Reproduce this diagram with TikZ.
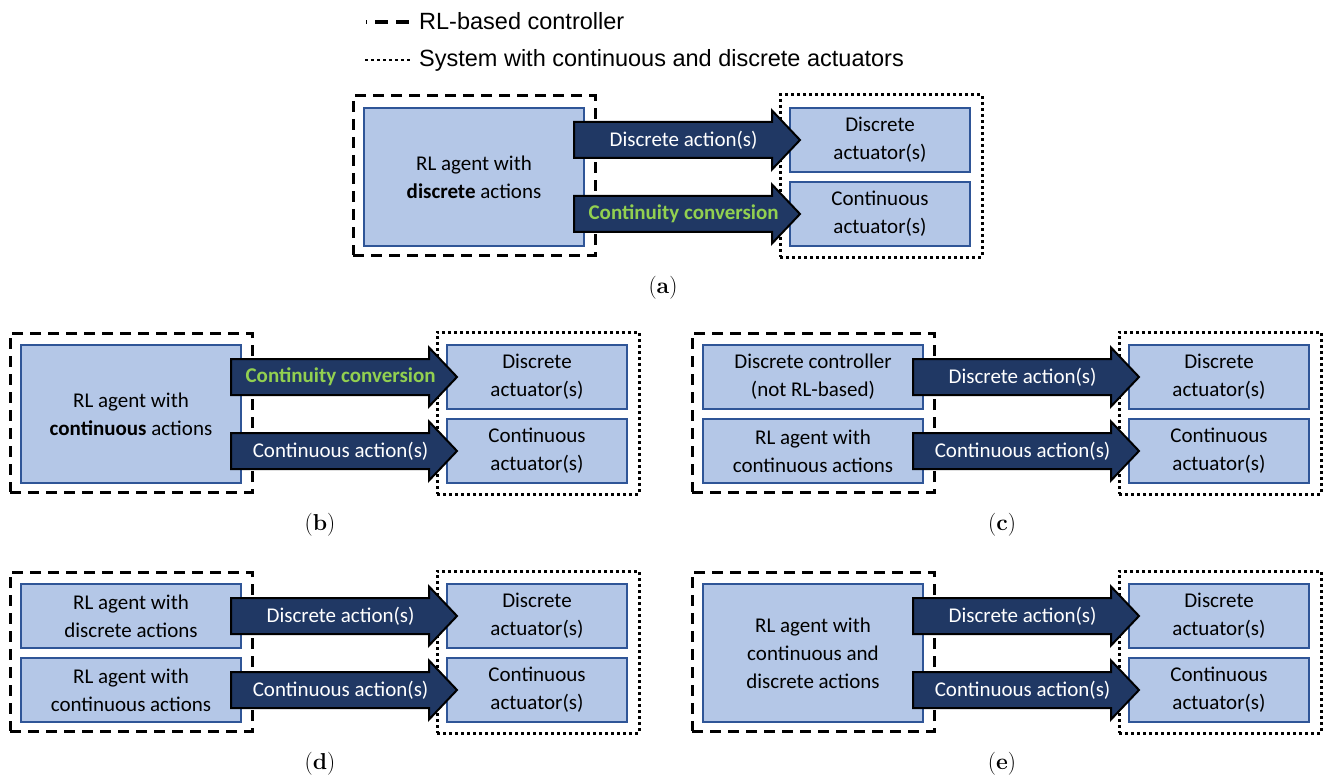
\documentclass[tikz,border=0pt]{standalone}
\usepackage{fontspec}
\newfontfamily\calibri{Carlito}
\newfontfamily\arialfont{Liberation Sans}
\usetikzlibrary{calc}
\definecolor{boxfill}{HTML}{B4C7E7}
\definecolor{boxline}{HTML}{2F5597}
\definecolor{arrowfill}{HTML}{203864}
\definecolor{convgreen}{HTML}{92D050}

% block arrow from a tail point to the west side of a target node
% #1 tail anchor, #2 target node, #3 name, #4 label style, #5 label
\newcommand{\blockarrow}[5]{%
  \coordinate (#3-tail) at ([xshift=-11pt]#1);
  \coordinate (#3-tip) at ([xshift=11pt]#2.west);
  \draw[barrow] ([yshift=18pt]#3-tail) -- ([xshift=-28pt,yshift=18pt]#3-tip)
    -- ([xshift=-28pt,yshift=29.5pt]#3-tip) -- (#3-tip)
    -- ([xshift=-28pt,yshift=-29.5pt]#3-tip) -- ([xshift=-28pt,yshift=-18pt]#3-tip)
    -- ([yshift=-18pt]#3-tail) -- cycle;
  \node[#4] (#3) at ($(#3-tail)!0.485!(#3-tip)$) {#5};
}

\begin{document}
\begin{tikzpicture}[x=1pt,y=-1pt,
  boxfont/.style={font=\calibri\fontsize{21}{28}\selectfont},
  unit/.style={boxfont, draw=boxline, fill=boxfill, line width=2pt, align=center, inner sep=0pt},
  bigunit/.style={unit, minimum width=220pt, minimum height=138pt},
  smallunit/.style={unit, minimum width=220pt, minimum height=64pt},
  actbox/.style={unit, minimum width=180pt, minimum height=64pt},
  ctrlframe/.style={draw=black, line width=3pt, dash pattern=on 11pt off 7pt, minimum width=242pt, minimum height=159pt, inner sep=0pt},
  plantframe/.style={draw=black, line width=3pt, dash pattern=on 3pt off 3pt, minimum width=202pt, minimum height=162pt, inner sep=0pt},
  barrow/.style={draw=black, line width=2pt, fill=arrowfill, line join=miter},
  alabel/.style={boxfont, text=white, inner sep=0pt},
  conv/.style={font=\calibri\bfseries\fontsize{21}{28}\selectfont, text=convgreen, inner sep=0pt},
  legtext/.style={font=\arialfont\fontsize{23.5}{28}\selectfont, inner sep=0pt, anchor=base west},
  legdash/.style={line width=3.5pt, dash pattern=on 13pt off 8pt, dash phase=12pt},
  legdot/.style={line width=2.5pt, dash pattern=on 3pt off 3pt},
  caption/.style={font=\rmfamily\fontsize{23}{27}\selectfont, inner sep=0pt, anchor=base}
]
\useasboundingbox (0,0) rectangle (1325,778);

% legend
\coordinate (l1a) at (366,22);
\coordinate (l1b) at (409,22);
\draw[legdash] (l1a) -- (l1b);
\node[legtext] (leg1) at (419,30) {RL-based controller};
\coordinate (l2a) at (365,60);
\coordinate (l2b) at (410,60);
\draw[legdot] (l2a) -- (l2b);
\node[legtext] (leg2) at (419,67) {System with continuous and discrete actuators};

% (a)
\begin{scope}[shift={(353,96)}]
  \node[ctrlframe] (a-ctrl) at (121,79.5) {};
  \node[plantframe] (a-plant) at (528,80) {};
  \node[bigunit] (a-agent) at (121,81) {RL agent with\\\textbf{discrete} actions};
  \node[actbox] (a-dact) at (527,44) {Discrete\\actuator(s)};
  \node[actbox] (a-cact) at (527,118) {Continuous\\actuator(s)};
  \coordinate (a-o1) at (a-agent.east |- a-dact.west);
  \coordinate (a-o2) at (a-agent.east |- a-cact.west);
  \blockarrow{a-o1}{a-dact}{a-arr1}{alabel}{Discrete action(s)}
  \blockarrow{a-o2}{a-cact}{a-arr2}{conv}{Continuity conversion}
  \node[caption] (a-cap) at (310,197) {(\textbf{a})};
\end{scope}

% (b)
\begin{scope}[shift={(10,333)}]
  \node[ctrlframe] (b-ctrl) at (121,79.5) {};
  \node[plantframe] (b-plant) at (528,80) {};
  \node[bigunit] (b-agent) at (121,81) {RL agent with\\\textbf{continuous} actions};
  \node[actbox] (b-dact) at (527,44) {Discrete\\actuator(s)};
  \node[actbox] (b-cact) at (527,118) {Continuous\\actuator(s)};
  \coordinate (b-o1) at (b-agent.east |- b-dact.west);
  \coordinate (b-o2) at (b-agent.east |- b-cact.west);
  \blockarrow{b-o1}{b-dact}{b-arr1}{conv}{Continuity conversion}
  \blockarrow{b-o2}{b-cact}{b-arr2}{alabel}{Continuous action(s)}
  \node[caption] (b-cap) at (310,197) {(\textbf{b})};
\end{scope}

% (c)
\begin{scope}[shift={(692,333)}]
  \node[ctrlframe] (c-ctrl) at (121,79.5) {};
  \node[plantframe] (c-plant) at (528,80) {};
  \node[smallunit] (c-top) at (121,44) {Discrete controller\\(not RL-based)};
  \node[smallunit] (c-bot) at (121,118) {RL agent with\\continuous actions};
  \node[actbox] (c-dact) at (527,44) {Discrete\\actuator(s)};
  \node[actbox] (c-cact) at (527,118) {Continuous\\actuator(s)};
  \blockarrow{c-top.east}{c-dact}{c-arr1}{alabel}{Discrete action(s)}
  \blockarrow{c-bot.east}{c-cact}{c-arr2}{alabel}{Continuous action(s)}
  \node[caption] (c-cap) at (310,197) {(\textbf{c})};
\end{scope}

% (d)
\begin{scope}[shift={(10,572)}]
  \node[ctrlframe] (d-ctrl) at (121,79.5) {};
  \node[plantframe] (d-plant) at (528,80) {};
  \node[smallunit] (d-top) at (121,44) {RL agent with\\discrete actions};
  \node[smallunit] (d-bot) at (121,118) {RL agent with\\continuous actions};
  \node[actbox] (d-dact) at (527,44) {Discrete\\actuator(s)};
  \node[actbox] (d-cact) at (527,118) {Continuous\\actuator(s)};
  \blockarrow{d-top.east}{d-dact}{d-arr1}{alabel}{Discrete action(s)}
  \blockarrow{d-bot.east}{d-cact}{d-arr2}{alabel}{Continuous action(s)}
  \node[caption] (d-cap) at (310,197) {(\textbf{d})};
\end{scope}

% (e)
\begin{scope}[shift={(692,572)}]
  \node[ctrlframe] (e-ctrl) at (121,79.5) {};
  \node[plantframe] (e-plant) at (528,80) {};
  \node[bigunit] (e-agent) at (121,81) {RL agent with\\continuous and\\discrete actions};
  \node[actbox] (e-dact) at (527,44) {Discrete\\actuator(s)};
  \node[actbox] (e-cact) at (527,118) {Continuous\\actuator(s)};
  \coordinate (e-o1) at (e-agent.east |- e-dact.west);
  \coordinate (e-o2) at (e-agent.east |- e-cact.west);
  \blockarrow{e-o1}{e-dact}{e-arr1}{alabel}{Discrete action(s)}
  \blockarrow{e-o2}{e-cact}{e-arr2}{alabel}{Continuous action(s)}
  \node[caption] (e-cap) at (310,197) {(\textbf{e})};
\end{scope}
\end{tikzpicture}
\end{document}
